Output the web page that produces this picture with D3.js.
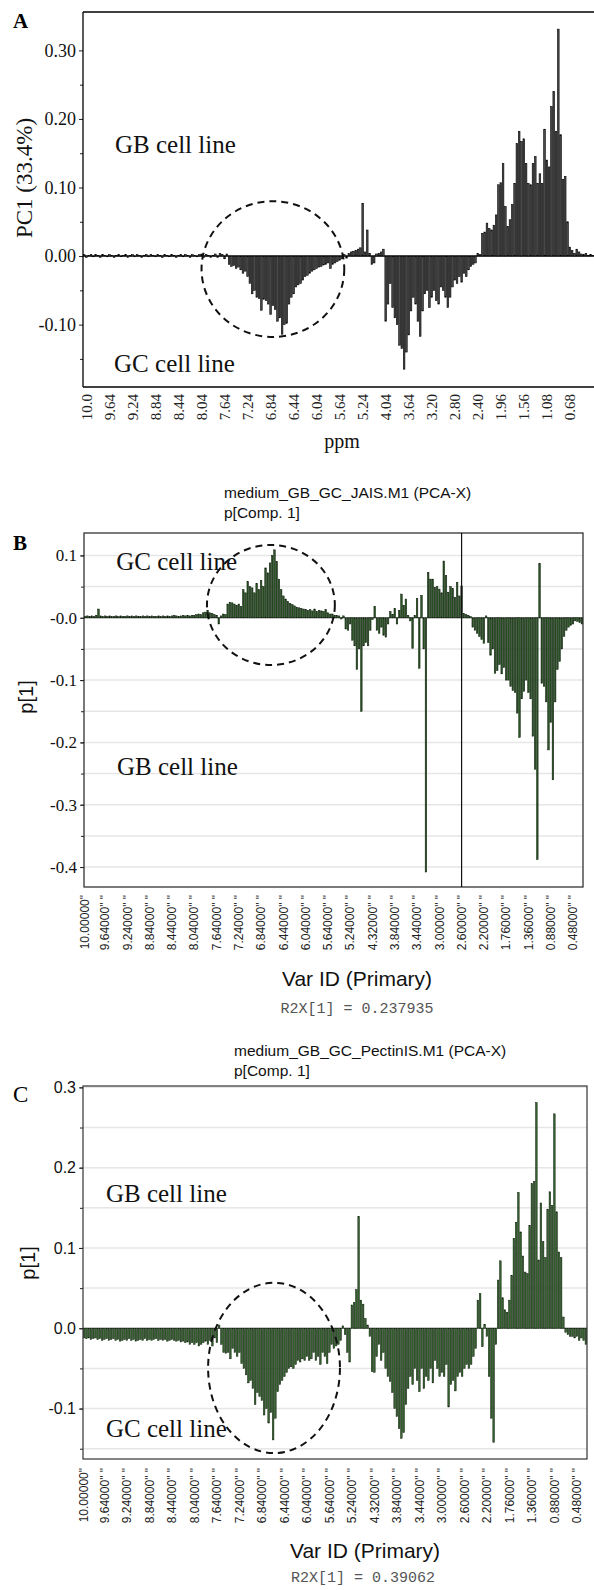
<!DOCTYPE html>
<html><head><meta charset="utf-8">
<script src="https://cdn.jsdelivr.net/npm/d3@7/dist/d3.min.js"></script>
<style>body{margin:0;background:#fff}</style>
</head><body>
<svg id="chart" width="594" height="1590" xmlns="http://www.w3.org/2000/svg"></svg>
<script>
// ---------------- DATA ----------------
// Panel A: PC1 loadings per 0.04 ppm bin
const valuesA = [
 0.002,-0.002,0.001,0.002,-0.001,0.002,0.001,-0.002,0.002,0.001,
 -0.001,0.002,0.001,-0.002,0.001,0.002,-0.001,0.001,0.002,-0.002,
 0.001,0.002,-0.001,0.002,0.001,-0.002,0.001,0.002,-0.001,0.002,
 0.001,-0.001,0.002,0.001,-0.002,0.002,0.001,-0.001,0.002,0.001,
 -0.002,0.001,0.002,-0.001,0.002,0.001,-0.002,0.002,0.001,-0.001,
 0.002,0.003,-0.002,0.002,0.001,-0.002,
 0.001,0.003,-0.002,0.004,0.002,-0.004,0.003,
 -0.012,-0.015,-0.014,-0.018,-0.016,-0.02,-0.025,-0.022,-0.03,-0.04,
 -0.055,-0.05,-0.06,-0.062,-0.079,-0.063,-0.065,-0.07,-0.085,-0.072,-0.078,-0.095,-0.09,-0.114,-0.1,-0.098,-0.07,-0.06,
 -0.055,-0.045,-0.042,-0.04,-0.035,-0.03,-0.028,-0.025,-0.022,-0.02,-0.018,-0.016,-0.015,-0.013,-0.012,-0.01,-0.018,-0.012,-0.01,-0.008,-0.006,-0.004,
 0.002,-0.003,0.004,0.006,0.007,0.008,0.01,0.012,0.077,0.006,0.038,0.004,-0.012,-0.01,0.003,0.004,0.006,0.01,
 -0.095,-0.07,-0.04,-0.075,-0.09,-0.1,-0.13,-0.135,-0.165,-0.14,-0.115,-0.08,-0.06,-0.07,-0.095,-0.117,-0.08,-0.055,-0.05,-0.075,
 -0.06,-0.05,-0.065,-0.07,-0.045,-0.05,-0.06,-0.075,-0.06,-0.045,-0.035,-0.04,-0.03,-0.038,-0.025,-0.03,-0.02,-0.015,-0.012,-0.01,0.004,0.002,
 0.033,0.035,0.048,0.04,0.038,0.045,0.06,0.104,0.107,0.135,0.072,0.043,0.053,0.075,0.106,0.164,0.182,0.167,0.171,0.135,
 0.106,0.104,0.135,0.145,0.106,0.12,0.106,0.185,0.14,0.13,0.218,0.24,0.182,0.331,0.177,0.112,0.116,0.05,0.013,
 0.008,0.004,0.01,0.006,0.003,0.002,0.004,0.001,0.002,0.001
];
const xLabelsA = ["10.0","9.64","9.24","8.84","8.44","8.04","7.64","7.24","6.84","6.44","6.04","5.64","5.24","4.04","3.64","3.20","2.80","2.40","1.96","1.56","1.08","0.68"];
const xLabelBinsA = [1,11,21,31,41,51,61,71,81,91,101,111,121,131,141,151,161,171,181,191,201,211];
const yTicksA = [0.30,0.20,0.10,0.00,-0.10];
const yTickLabelsA = ["0.30","0.20","0.10","0.00","-0.10"];
const yMinorA = [0.25,0.15,0.05,-0.05,-0.15];

// Panel B: p[1] loadings, JAIS model
const valuesB = [
 0.002,0.003,0.002,0.003,0.002,0.004,0.014,0.003,0.002,0.003,
 0.002,0.003,0.002,0.002,0.003,0.002,0.003,0.002,0.002,0.003,
 0.002,0.003,0.002,0.003,0.002,0.002,0.003,0.002,0.003,0.002,
 0.003,0.002,0.002,0.003,0.002,0.003,0.002,0.003,0.002,0.003,
 0.004,0.003,0.002,0.003,0.004,0.003,0.004,0.003,0.004,
 0.004,0.005,0.006,0.005,0.008,0.009,0.012,0.008,0.007,0.005,0.004,
 -0.01,0.003,0.006,0.005,
 0.022,0.025,0.024,0.022,0.02,0.022,0.018,
 0.045,0.04,0.058,0.05,0.048,0.04,0.055,0.045,0.06,0.05,
 0.08,0.072,0.088,0.1,0.109,0.09,0.062,
 0.045,0.035,0.03,0.026,0.023,0.021,0.019,0.017,0.016,0.015,0.014,0.013,0.012,0.013,0.011,0.014,0.01,0.012,0.011,0.01,0.013,0.008,0.006,0.006,0.004,
 0.004,0.003,-0.002,0.003,-0.018,
 -0.02,-0.01,-0.036,-0.045,-0.083,-0.05,-0.15,-0.045,-0.04,-0.045,-0.02,-0.003,
 0.018,-0.02,-0.025,-0.015,-0.028,-0.031,-0.01,
 0.01,0.005,0.015,-0.01,0.012,0.038,0.02,0.03,0.004,-0.005,
 -0.049,0.004,0.031,-0.081,0.036,-0.05,-0.408,0.073,0.062,
 0.062,0.049,0.05,0.046,0.04,0.091,0.068,0.041,0.05,0.047,0.033,0.057,0.035,0.051,
 0.007,0.005,0.004,0.002,
 -0.015,-0.02,-0.025,-0.03,-0.035,-0.041,0.003,-0.04,-0.06,-0.05,-0.089,-0.085,-0.075,-0.09,-0.08,-0.1,
 -0.1,-0.11,-0.117,-0.12,-0.153,-0.192,-0.13,-0.118,-0.1,-0.12,-0.13,-0.19,-0.243,-0.388,
 0.087,-0.105,-0.11,-0.135,-0.212,-0.168,-0.26,-0.135,-0.083,-0.07,-0.05,-0.03,-0.02,-0.015,-0.012,-0.01,-0.005,-0.006,-0.008,-0.01
];
// Panel C: p[1] loadings, PectinIS model
const valuesC = [
 -0.012,-0.013,-0.012,-0.014,-0.013,-0.012,-0.014,-0.013,-0.015,-0.014,
 -0.013,-0.015,-0.014,-0.013,-0.015,-0.014,-0.016,-0.015,-0.014,-0.015,
 -0.013,-0.015,-0.014,-0.016,-0.015,-0.014,-0.015,-0.013,-0.015,-0.014,
 -0.015,-0.014,-0.013,-0.015,-0.014,-0.015,-0.014,-0.016,-0.015,-0.014,
 -0.015,-0.016,-0.015,-0.017,-0.016,-0.018,-0.017,-0.02,-0.018,
 -0.02,-0.018,-0.022,-0.02,-0.018,-0.016,-0.02,-0.015,-0.022,-0.012,-0.018,0.004,
 -0.02,-0.03,-0.031,-0.03,-0.038,-0.025,-0.03,-0.035,-0.03,-0.044,
 -0.05,-0.058,-0.068,-0.065,-0.075,
 -0.095,-0.08,-0.085,-0.09,-0.108,-0.1,-0.118,-0.105,-0.139,-0.112,-0.079,-0.07,
 -0.065,-0.06,-0.055,-0.05,-0.048,-0.05,-0.045,-0.04,-0.042,-0.038,-0.04,
 -0.035,-0.04,-0.038,-0.03,-0.04,-0.035,-0.045,-0.03,-0.035,-0.044,-0.03,
 -0.02,-0.025,-0.022,-0.02,-0.015,0.003,-0.008,
 -0.03,-0.042,
 0.029,0.032,0.048,0.139,0.035,0.03,0.012,0.004,
 -0.01,-0.054,-0.055,-0.035,-0.02,-0.04,-0.03,-0.05,-0.06,-0.066,-0.08,
 -0.1,-0.11,-0.125,-0.137,-0.13,-0.095,-0.075,
 -0.06,-0.07,-0.05,-0.065,-0.079,-0.05,-0.075,-0.06,-0.065,-0.05,-0.068,
 -0.04,-0.05,-0.06,-0.055,-0.06,-0.045,-0.098,-0.07,-0.065,-0.078,-0.06,-0.055,-0.06,-0.05,-0.045,-0.05,-0.045,-0.035,-0.025,
 0.035,0.043,-0.023,0.005,-0.01,
 -0.06,-0.112,-0.142,-0.02,
 0.06,0.084,0.038,0.023,0.02,0.035,0.066,0.112,0.132,0.169,0.12,0.09,0.07,0.068,0.128,
 0.18,0.183,0.281,0.085,0.156,0.108,0.088,0.148,0.17,0.153,0.267,0.145,0.095,0.088,0.014,
 -0.005,-0.008,-0.01,-0.01,-0.012,-0.01,-0.015,-0.012,-0.015,-0.02
];
const xLabelsBC = ['10.00000"','9.64000" "','9.24000" "','8.84000" "','8.44000" "','8.04000" "','7.64000" "','7.24000" "','6.84000" "','6.44000" "','6.04000" "','5.64000" "','5.24000" "','4.32000" "','3.84000" "','3.44000" "','3.00000" "','2.60000" "','2.20000" "','1.76000" "','1.36000" "','0.88000" "','0.48000" "'];
const xLabelBinsBC = [0,9,19,29,39,49,59,69,79,89,99,109,119,129,139,149,159,169,179,189,199,209,219];
const yTicksB = [0.1,0.0,-0.1,-0.2,-0.3,-0.4];
const yTickLabelsB = ["0.1","-0.0","-0.1","-0.2","-0.3","-0.4"];
const yGridB = [0.1,0.05,0,-0.05,-0.1,-0.15,-0.2,-0.25,-0.3,-0.35,-0.4];
const dividerBinB = 169;
const yTicksC = [0.3,0.2,0.1,0.0,-0.1];
const yTickLabelsC = ["0.3","0.2","0.1","0.0","-0.1"];
const yGridC = [0.3,0.25,0.2,0.15,0.1,0.05,0,-0.05,-0.1,-0.15];

// Annotations (in data units: bin index, loading value)
const circlesA = [{bin:82, value:-0.019, rBins:31, rValue:0.099}];
const circlesB = [{bin:83.4, value:0.0205, rBins:28.7, rValue:0.0963}];
const circlesC = [{bin:84.4, value:-0.0494, rBins:29.3, rValue:0.106}];
const notesA = [{text:"GB cell line", bin:13.4, value:0.150},{text:"GC cell line", bin:13, value:-0.169}];
const notesB = [{text:"GC cell line", bin:14, value:0.0767},{text:"GB cell line", bin:14.3, value:-0.252}];
const notesC = [{text:"GB cell line", bin:9.7, value:0.1573},{text:"GC cell line", bin:9.7, value:-0.1354}];

// ---------------- DRAW ----------------
const SERIF = "'Liberation Serif','Times New Roman',serif";
const SANS = "'Liberation Sans',Arial,Helvetica,sans-serif";
const MONO = "'Liberation Mono','Courier New',monospace";
const svg = d3.select("#chart");

function panel(o){
  const g = svg.append("g");
  const n = o.values.length;
  const x = d3.scaleBand().domain(d3.range(n)).range([o.left,o.right]).paddingInner(o.pad).paddingOuter(o.pad/2);
  const y = d3.scaleLinear().domain(o.yDomain).range([o.bottom,o.top]);
  const step = x.step();
  const cx = b => o.left + (b+0.5)*step;

  if (o.grid) {
    g.append("g").selectAll("line").data(o.grid).join("line")
      .attr("x1",o.left).attr("x2",o.right)
      .attr("y1",d=>y(d)).attr("y2",d=>y(d))
      .attr("stroke","#e6e6e6").attr("stroke-width",1.5);
  }
  g.append("line").attr("x1",o.left).attr("x2",o.right).attr("y1",y(0)).attr("y2",y(0))
    .attr("stroke",o.zeroColor).attr("stroke-width",o.zeroWidth);
  g.append("g").selectAll("rect").data(o.values).join("rect")
    .attr("x",(d,i)=>x(i)).attr("width",x.bandwidth())
    .attr("y",d=>Math.min(y(d),y(0)))
    .attr("height",d=>Math.max(0.6,Math.abs(y(d)-y(0))))
    .attr("fill",o.fill).attr("stroke",o.stroke).attr("stroke-width",o.sw);

  const ax = g.append("g").attr("transform",`translate(${o.left},0)`);
  ax.call(d3.axisLeft(y).tickValues(o.yTicks).tickSize(4).tickPadding(3)
    .tickFormat((d,i)=>o.yTickLabels[i]));
  ax.select(".domain").remove();
  ax.selectAll("text").attr("font-family",o.tickFont).attr("font-size",o.tickSize).attr("fill","#111");
  ax.selectAll("line").attr("stroke","#222");
  if (o.minor) {
    const mx = g.append("g").attr("transform",`translate(${o.left},0)`);
    mx.call(d3.axisLeft(y).tickValues(o.minor).tickSize(3).tickFormat(""));
    mx.select(".domain").remove();
    mx.selectAll("line").attr("stroke","#222");
  }

  g.append("g").selectAll("text").data(o.xLabels).join("text")
    .attr("transform",(d,i)=>`translate(${cx(o.xLabelBins[i])},${o.xLabelTop}) rotate(-90)`)
    .attr("text-anchor","end").attr("dy","0.35em")
    .attr("font-family",o.xFont).attr("font-size",o.xSize).attr("fill","#222")
    .text(d=>d);

  g.append("g").selectAll("ellipse").data(o.circles).join("ellipse")
    .attr("cx",d=>cx(d.bin)).attr("cy",d=>y(d.value))
    .attr("rx",d=>d.rBins*step).attr("ry",d=>Math.abs(y(0)-y(d.rValue)))
    .attr("fill","none").attr("stroke","#111").attr("stroke-width",2).attr("stroke-dasharray","7,5");
  g.append("g").selectAll("text").data(o.notes).join("text")
    .attr("x",d=>cx(d.bin)).attr("y",d=>y(d.value))
    .attr("font-family",SERIF).attr("font-size",25).attr("fill","#111")
    .text(d=>d.text);
  return {g,x,y,cx,step};
}

// ---- Panel A ----
const pA = panel({values:valuesA,left:83,right:594,top:12,bottom:387,pad:0.3,yDomain:[-0.191,0.356],
  fill:"#4a4a4a",stroke:"#000",sw:0.6,zeroColor:"#222",zeroWidth:1.6,
  yTicks:yTicksA,yTickLabels:yTickLabelsA,minor:yMinorA,tickFont:SERIF,tickSize:18,
  xLabels:xLabelsA,xLabelBins:xLabelBinsA,xLabelTop:394,xFont:SERIF,xSize:15,
  circles:circlesA,notes:notesA});
svg.append("line").attr("x1",83).attr("x2",594).attr("y1",12).attr("y2",12).attr("stroke","#000").attr("stroke-width",1.3);
svg.append("line").attr("x1",83).attr("x2",594).attr("y1",387).attr("y2",387).attr("stroke","#000").attr("stroke-width",1.3);
svg.append("line").attr("x1",83).attr("x2",83).attr("y1",12).attr("y2",387).attr("stroke","#000").attr("stroke-width",1.3);
svg.append("text").attr("x",13).attr("y",28).attr("font-family",SERIF).attr("font-weight","bold").attr("font-size",21).text("A");
svg.append("text").attr("transform","translate(32,178) rotate(-90)").attr("text-anchor","middle")
  .attr("font-family",SERIF).attr("font-size",23).attr("fill","#111").text("PC1 (33.4%)");
svg.append("text").attr("x",342).attr("y",448).attr("text-anchor","middle")
  .attr("font-family",SERIF).attr("font-size",20).attr("fill","#111").text("ppm");

// ---- Panel B ----
svg.append("text").attr("x",224).attr("y",498).attr("font-family",SANS).attr("font-size",15.5).attr("fill","#111").text("medium_GB_GC_JAIS.M1 (PCA-X)");
svg.append("text").attr("x",224).attr("y",518).attr("font-family",SANS).attr("font-size",15.5).attr("fill","#111").text("p[Comp. 1]");
const pB = panel({values:valuesB,left:84,right:583,top:533,bottom:887,pad:0.3,yDomain:[-0.432,0.136],grid:yGridB,
  fill:"#2a5424",stroke:"#0b1a09",sw:0.5,zeroColor:"#999",zeroWidth:1.5,
  yTicks:yTicksB,yTickLabels:yTickLabelsB,minor:yGridB,tickFont:SERIF,tickSize:17,
  xLabels:xLabelsBC,xLabelBins:xLabelBinsBC,xLabelTop:895,xFont:SANS,xSize:12,
  circles:circlesB,notes:notesB});
svg.append("rect").attr("x",84).attr("y",533).attr("width",583-84).attr("height",887-533).attr("fill","none").attr("stroke","#222").attr("stroke-width",1.2);
svg.append("line").attr("x1",pB.cx(dividerBinB)).attr("x2",pB.cx(dividerBinB)).attr("y1",533).attr("y2",887).attr("stroke","#111").attr("stroke-width",1.2);
svg.append("text").attr("x",13).attr("y",550).attr("font-family",SERIF).attr("font-weight","bold").attr("font-size",21).text("B");
svg.append("text").attr("transform","translate(33,697) rotate(-90)").attr("text-anchor","middle")
  .attr("font-family",SANS).attr("font-size",20).attr("fill","#111").text("p[1]");
svg.append("text").attr("x",357).attr("y",986).attr("text-anchor","middle").attr("font-family",SANS).attr("font-size",21).attr("fill","#111").text("Var ID (Primary)");
svg.append("text").attr("x",357).attr("y",1013).attr("text-anchor","middle").attr("font-family",MONO).attr("font-size",15).attr("fill","#555").text("R2X[1] = 0.237935");

// ---- Panel C ----
svg.append("text").attr("x",234).attr("y",1056).attr("font-family",SANS).attr("font-size",15.5).attr("fill","#111").text("medium_GB_GC_PectinIS.M1 (PCA-X)");
svg.append("text").attr("x",234).attr("y",1076).attr("font-family",SANS).attr("font-size",15.5).attr("fill","#111").text("p[Comp. 1]");
const pC = panel({values:valuesC,left:83,right:587,top:1086,bottom:1459,pad:0.3,yDomain:[-0.1628,0.3017],grid:yGridC,
  fill:"#36652e",stroke:"#0b1a09",sw:0.5,zeroColor:"#999",zeroWidth:1.5,
  yTicks:yTicksC,yTickLabels:yTickLabelsC,minor:yGridC,tickFont:SANS,tickSize:16,
  xLabels:xLabelsBC,xLabelBins:xLabelBinsBC,xLabelTop:1468,xFont:SANS,xSize:12,
  circles:circlesC,notes:notesC});
svg.append("rect").attr("x",83).attr("y",1086).attr("width",587-83).attr("height",1459-1086).attr("fill","none").attr("stroke","#333").attr("stroke-width",1.2);
svg.append("text").attr("x",13).attr("y",1102).attr("font-family",SERIF).attr("font-size",23).text("C");
svg.append("text").attr("transform","translate(35,1263) rotate(-90)").attr("text-anchor","middle")
  .attr("font-family",SANS).attr("font-size",20).attr("fill","#111").text("p[1]");
svg.append("text").attr("x",365).attr("y",1558).attr("text-anchor","middle").attr("font-family",SANS).attr("font-size",21).attr("fill","#111").text("Var ID (Primary)");
svg.append("text").attr("x",363).attr("y",1582).attr("text-anchor","middle").attr("font-family",MONO).attr("font-size",15).attr("fill","#555").text("R2X[1] = 0.39062");
</script>
</body></html>
